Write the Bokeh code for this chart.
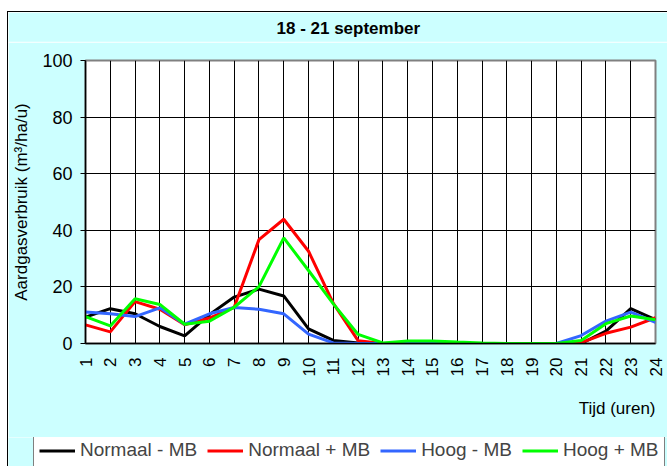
from bokeh.plotting import figure
from bokeh.models import Range1d, FixedTicker, Legend, LegendItem, Title
from bokeh.layouts import column
from bokeh.embed import file_html
from bokeh.resources import INLINE
import math

hours = list(range(1, 25))
hour_labels = [str(h) for h in hours]
y_ticks = [0, 20, 40, 60, 80, 100]

normaal_min = [9.3, 12.3, 10.5, 6.0, 2.7, 10.2, 16.4, 19.2, 16.8, 5.2, 1.1, 0.2,
               0, 0, 0, 0, 0, 0, 0, 0, 0, 4.4, 12.3, 8.4]
normaal_plus = [6.6, 4.1, 14.8, 12.1, 6.6, 9.0, 12.8, 36.7, 43.9, 32.6, 14.2, 1.0,
                0, 0, 0, 0, 0, 0, 0, 0, 0.3, 3.6, 5.8, 9.1]
hoog_min = [11.1, 10.5, 9.5, 12.6, 6.8, 10.5, 12.7, 12.1, 10.5, 3.3, 0.2, 0,
            0, 0.3, 0.3, 0, 0, 0, 0, 0, 2.8, 7.9, 11.1, 7.5]
hoog_plus = [9.5, 6.2, 15.8, 13.8, 6.8, 7.9, 12.8, 20.1, 37.3, 25.8, 14.0, 3.2,
             0.2, 0.9, 0.9, 0.5, 0.2, 0, 0, 0, 1.1, 7.0, 9.7, 8.4]

series_names = ["Normaal - MB", "Normaal + MB", "Hoog - MB", "Hoog + MB"]
series_colors = ["#000000", "#FF0000", "#3366FF", "#00FF00"]
series_values = [normaal_min, normaal_plus, hoog_min, hoog_plus]

title_text = "18 - 21 september"
y_title = "Aardgasverbruik (m³/ha/u)"
x_title = "Tijd (uren)"

FONT = "Liberation Sans"
BG = "#CCFFFF"
W = 659

# --- title strip ---
p0 = figure(width=W, height=30, output_backend="svg", toolbar_location=None,
            x_axis_type=None, y_axis_type=None, title=title_text,
            min_border_left=0, min_border_right=0, min_border_top=0, min_border_bottom=0)
p0.background_fill_color = BG
p0.border_fill_color = BG
p0.outline_line_color = None
p0.title.align = "left"
p0.title.standoff = 8
p0.title.text_font = FONT
p0.title.text_font_size = "17px"
p0.title.text_font_style = "bold"
p0.title.text_color = "black"

# --- main chart ---
p = figure(width=W, height=395, output_backend="svg", toolbar_location=None,
           x_range=Range1d(1, 24), y_range=Range1d(0, 100),
           min_border_left=77, min_border_right=12, min_border_top=18,
           min_border_bottom=94)
p.background_fill_color = "white"
p.border_fill_color = BG
p.outline_line_color = "#808080"
p.outline_line_width = 2

p.xaxis.ticker = FixedTicker(ticks=hours)
p.xaxis.major_label_overrides = {h: l for h, l in zip(hours, hour_labels)}
p.xaxis.major_label_orientation = math.pi / 2
p.xaxis.major_label_text_font = FONT
p.xaxis.major_label_text_font_size = "17px"
p.xaxis.major_label_text_color = "black"
p.xaxis.major_label_standoff = 14
p.xaxis.major_tick_out = 0
p.xaxis.major_tick_in = 0
p.xaxis.minor_tick_line_color = None
p.xaxis.axis_line_color = "black"
p.xaxis.axis_line_width = 1.5

p.yaxis.ticker = FixedTicker(ticks=y_ticks)
p.yaxis.major_label_text_font = FONT
p.yaxis.major_label_text_font_size = "18px"
p.yaxis.major_label_text_color = "black"
p.yaxis.major_label_standoff = 8
p.yaxis.major_tick_out = 5
p.yaxis.major_tick_in = 0
p.yaxis.major_tick_line_color = "black"
p.yaxis.minor_tick_line_color = None
p.yaxis.axis_line_color = "black"
p.yaxis.axis_line_width = 1.5
p.yaxis.axis_label = y_title
p.yaxis.axis_label_text_font = FONT
p.yaxis.axis_label_text_font_size = "17px"
p.yaxis.axis_label_text_font_style = "normal"
p.yaxis.axis_label_text_color = "black"
p.yaxis.axis_label_standoff = 8

p.xgrid.ticker = FixedTicker(ticks=hours)
p.xgrid.grid_line_color = "black"
p.xgrid.grid_line_width = 1
p.ygrid.ticker = FixedTicker(ticks=y_ticks)
p.ygrid.grid_line_color = "black"
p.ygrid.grid_line_width = 1

for name, color, vals in zip(series_names, series_colors, series_values):
    p.line(hours, vals, line_color=color, line_width=3)

p.add_layout(Title(text=x_title, align="right", offset=0, standoff=34,
                   text_font=FONT, text_font_size="17px", text_font_style="normal",
                   text_color="black"), "below")

# --- legend strip (lines lie outside its visible range; only the legend shows) ---
p2 = figure(width=W, height=29, output_backend="svg", toolbar_location=None,
            x_axis_type=None, y_axis_type=None,
            x_range=Range1d(-10, -9), y_range=Range1d(-10, -9),
            min_border_left=0, min_border_right=0, min_border_top=0, min_border_bottom=0)
p2.background_fill_color = BG
p2.border_fill_color = BG
p2.outline_line_color = None
leg_renderers = []
for name, color, vals in zip(series_names, series_colors, series_values):
    leg_renderers.append(p2.line(hours, vals, line_color=color, line_width=3))

# keep each strip's frame independent (no frame alignment across the column)
aligned = True
try:
    for f in (p0, p, p2):
        f.frame_align = False
    aligned = False
except Exception:
    aligned = True

frame_left = 77 if aligned else 0
p0.title.offset = 268 - frame_left

legend = Legend(items=[LegendItem(label=n, renderers=[r]) for n, r in zip(series_names, leg_renderers)],
                orientation="horizontal", location=(25 - frame_left, -1),
                label_text_font=FONT, label_text_font_size="19px",
                glyph_width=36, glyph_height=19, label_height=19,
                label_standoff=5, spacing=10, padding=5, margin=0,
                border_line_color="black", border_line_width=1,
                background_fill_color="white", background_fill_alpha=1)
p2.add_layout(legend, "center")

layout = column(p0, p, p2, spacing=0)
layout.styles = {"border-top": "1px solid black", "border-left": "1px solid black",
                 "margin-top": "11px", "margin-left": "7px"}

open("out.html", "w").write(file_html(layout, INLINE))
